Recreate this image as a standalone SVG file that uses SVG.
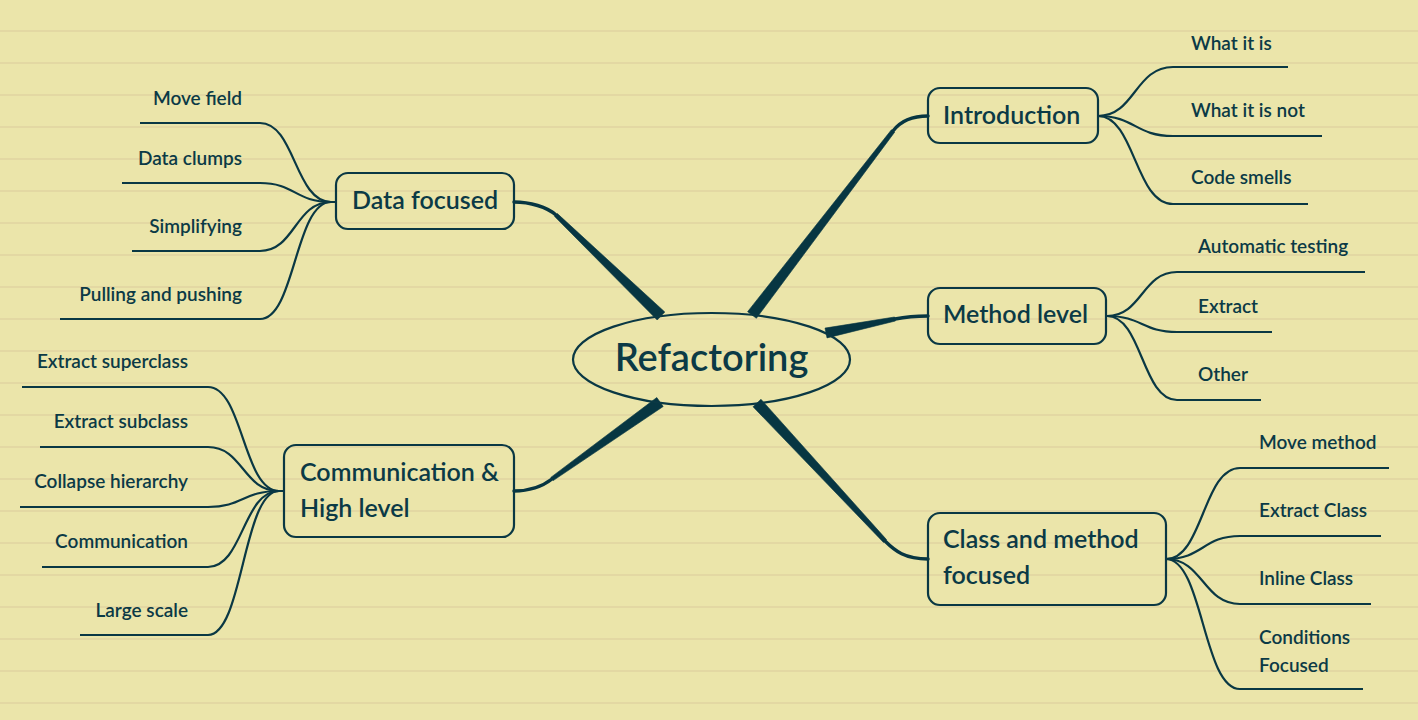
<svg xmlns="http://www.w3.org/2000/svg" width="1418" height="720" viewBox="0 0 1418 720">
<defs>
<pattern id="ruled" x="0" y="0" width="1418" height="32" patternUnits="userSpaceOnUse">
<line x1="0" y1="31" x2="1418" y2="31" stroke="#dccb9c" stroke-width="1.1"/>
</pattern>
<style>
.box{fill:none;stroke:#0a3844;stroke-width:2.2}
.lf{fill:none;stroke:#0a3844;stroke-width:2.2}
.taper{fill:#073642;stroke:#073642;stroke-width:0.6;stroke-linejoin:round}
.thin{fill:none;stroke:#073642;stroke-width:3.4;stroke-linecap:round}
text{font-family:Lato,"Noto Sans","DejaVu Sans",sans-serif;fill:#0b3a46;font-weight:600}
.main{font-size:38px}
.node{font-size:25px}
.leaf{font-size:19px}
.r{text-anchor:end}
</style>
</defs>
<rect width="1418" height="720" fill="#ebe5aa"/>
<rect width="1418" height="720" fill="url(#ruled)"/>

<g id="connectors">
<!-- main tapered branches -->
<polygon class="taper" points="747.6,311.7 756.4,318.3 894.6,132.2 891.4,129.8"/>
<path class="thin" d="M893,131 C899,123 910,116 928,116"/>
<polygon class="taper" points="825,328.1 827,337.9 895.4,321 894.6,317"/>
<path class="thin" d="M895,319 C905,317 915,316 928,316"/>
<polygon class="taper" points="761,399.3 886.5,539.6 883.5,542.4 753,406.7"/>
<path class="thin" d="M885,541 C895,551 905,559 928,559"/>
<polygon class="taper" points="664.8,312 557.4,213.6 554.6,216.4 657.2,320"/>
<path class="thin" d="M556,215 C547,207 530,202 514,202"/>
<polygon class="taper" points="663.2,406.5 553.2,480.6 550.8,477.4 656.8,397.5"/>
<path class="thin" d="M552,479 C543,486 530,491 514,491"/>

<!-- Introduction leaves -->
<path class="lf" d="M1098,116 C1135,116 1135,67 1173,67 L1288,67"/>
<path class="lf" d="M1098,116 C1135,116 1135,136 1173,136 L1322,136"/>
<path class="lf" d="M1098,116 C1135,116 1135,204 1173,204 L1308,204"/>
<!-- Method level leaves -->
<path class="lf" d="M1107,316 C1142,316 1142,272 1177,272 L1365,272"/>
<path class="lf" d="M1107,316 C1142,316 1142,332 1177,332 L1272,332"/>
<path class="lf" d="M1107,316 C1142,316 1142,400 1177,400 L1261,400"/>
<!-- Class and method leaves -->
<path class="lf" d="M1166,559 C1203,559 1203,468 1240,468 L1389,468"/>
<path class="lf" d="M1166,559 C1203,559 1203,536 1240,536 L1381,536"/>
<path class="lf" d="M1166,559 C1203,559 1203,604 1240,604 L1371,604"/>
<path class="lf" d="M1166,559 C1203,559 1203,689 1240,689 L1363,689"/>
<!-- Data focused leaves -->
<path class="lf" d="M336,202 L331,202 C295,202 295,123 260,123 L140,123"/>
<path class="lf" d="M331,202 C295,202 295,183 260,183 L122,183"/>
<path class="lf" d="M331,202 C295,202 295,251 260,251 L132,251"/>
<path class="lf" d="M331,202 C295,202 295,319 260,319 L60,319"/>
<!-- Communication leaves -->
<path class="lf" d="M284,491 L279,491 C243,491 243,387 208,387 L22,387"/>
<path class="lf" d="M279,491 C243,491 243,447 208,447 L40,447"/>
<path class="lf" d="M279,491 C243,491 243,507 208,507 L20,507"/>
<path class="lf" d="M279,491 C243,491 243,567 208,567 L42,567"/>
<path class="lf" d="M279,491 C243,491 243,635 208,635 L80,635"/>
</g>

<g id="refactoring">
<ellipse class="box" cx="711.5" cy="359.5" rx="138.5" ry="46.5"/>
<text class="main" x="711.5" y="371" text-anchor="middle">Refactoring</text>
</g>

<g id="introduction">
<rect class="box" x="928" y="88" width="170" height="55" rx="12"/>
<text class="node" x="943" y="124">Introduction</text>
</g>
<g id="method-level">
<rect class="box" x="928" y="288" width="178" height="56" rx="12"/>
<text class="node" x="943" y="323">Method level</text>
</g>
<g id="class-method">
<rect class="box" x="928" y="513" width="238" height="92" rx="12"/>
<text class="node" x="943" y="548">Class and method</text>
<text class="node" x="943" y="584">focused</text>
</g>
<g id="data-focused">
<rect class="box" x="336" y="173" width="178" height="56" rx="12"/>
<text class="node" x="352" y="209">Data focused</text>
</g>
<g id="communication">
<rect class="box" x="284" y="445" width="230" height="92" rx="12"/>
<text class="node" x="300" y="481">Communication &amp;</text>
<text class="node" x="300" y="517">High level</text>
</g>

<g id="leaf-what-it-is"><text class="leaf" x="1191" y="50">What it is</text></g>
<g id="leaf-what-it-is-not"><text class="leaf" x="1191" y="117">What it is not</text></g>
<g id="leaf-code-smells"><text class="leaf" x="1191" y="184">Code smells</text></g>
<g id="leaf-automatic-testing"><text class="leaf" x="1198" y="253">Automatic testing</text></g>
<g id="leaf-extract"><text class="leaf" x="1198" y="313">Extract</text></g>
<g id="leaf-other"><text class="leaf" x="1198" y="381">Other</text></g>
<g id="leaf-move-method"><text class="leaf" x="1259" y="449">Move method</text></g>
<g id="leaf-extract-class"><text class="leaf" x="1259" y="517">Extract Class</text></g>
<g id="leaf-inline-class"><text class="leaf" x="1259" y="585">Inline Class</text></g>
<g id="leaf-conditions-focused"><text class="leaf" x="1259" y="644">Conditions</text><text class="leaf" x="1259" y="672">Focused</text></g>
<g id="leaf-move-field"><text class="leaf r" x="242" y="105">Move field</text></g>
<g id="leaf-data-clumps"><text class="leaf r" x="242" y="165">Data clumps</text></g>
<g id="leaf-simplifying"><text class="leaf r" x="242" y="233">Simplifying</text></g>
<g id="leaf-pulling-pushing"><text class="leaf r" x="242" y="301">Pulling and pushing</text></g>
<g id="leaf-extract-superclass"><text class="leaf r" x="188" y="368">Extract superclass</text></g>
<g id="leaf-extract-subclass"><text class="leaf r" x="188" y="428">Extract subclass</text></g>
<g id="leaf-collapse-hierarchy"><text class="leaf r" x="188" y="488">Collapse hierarchy</text></g>
<g id="leaf-communication"><text class="leaf r" x="188" y="548">Communication</text></g>
<g id="leaf-large-scale"><text class="leaf r" x="188" y="617">Large scale</text></g>
</svg>
